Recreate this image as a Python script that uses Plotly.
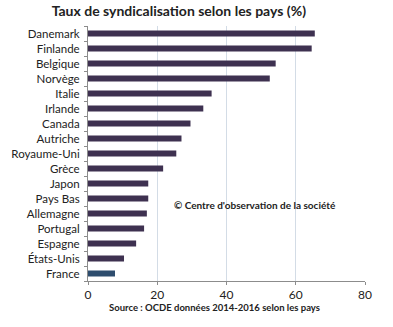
import plotly.graph_objects as go

countries = ["Danemark", "Finlande", "Belgique", "Norvège", "Italie", "Irlande", "Canada",
             "Autriche", "Royaume-Uni", "Grèce", "Japon", "Pays Bas", "Allemagne",
             "Portugal", "Espagne", "États-Unis", "France"]
rates = [65.5, 64.6, 54.2, 52.5, 35.7, 33.3, 29.6, 27.0, 25.5, 21.7, 17.4, 17.4, 17.0,
         16.2, 13.9, 10.4, 7.8]
x_ticks = [0, 20, 40, 60, 80]

colors = ["#2E4D6E" if c == "France" else "#3E3150" for c in countries]

fig = go.Figure()
fig.add_trace(go.Bar(
    y=countries, x=rates, orientation="h",
    marker=dict(color=colors, line=dict(width=0)),
    width=0.4,
))

fig.update_layout(
    width=393, height=327,
    margin=dict(l=88, r=28, t=26, b=46),
    paper_bgcolor="white", plot_bgcolor="white",
    font=dict(family="Lato, Open Sans, sans-serif", color="#222222", size=12),
    showlegend=False,
    bargap=0.6,
    title=dict(text="<b>Taux de syndicalisation selon les pays (%)</b>",
               x=0.455, xanchor="center", y=0.965, yanchor="middle",
               font=dict(size=14, color="#222222")),
    xaxis=dict(range=[0, 80], tickvals=x_ticks, showgrid=True, gridcolor="#D3DCE6",
               gridwidth=1, showline=True, linecolor="#8C8C8C", ticks="outside",
               ticklen=3, tickcolor="#8C8C8C", zeroline=False, automargin=False,
               tickfont=dict(size=12, color="#222222")),
    yaxis=dict(categoryorder="array", categoryarray=countries[::-1],
               showline=True, linecolor="#8C8C8C", ticks="outside", tickson="boundaries",
               ticklen=3, tickcolor="#8C8C8C", showgrid=False, ticklabelstandoff=5,
               automargin=False, tickfont=dict(size=11.5, color="#222222")),
    annotations=[
        dict(text="<b>© Centre d'observation de la société</b>", xref="paper", yref="paper",
             x=0.305, y=0.30, xanchor="left", yanchor="middle", showarrow=False,
             font=dict(size=10, color="#222222")),
        dict(text="<b>Source : OCDE données 2014-2016 selon les pays</b>", xref="paper",
             yref="paper", x=0.458, y=-0.102, xanchor="center", yanchor="middle",
             showarrow=False, font=dict(size=9.5, color="#222222")),
    ],
)

fig.write_html("out.html")
